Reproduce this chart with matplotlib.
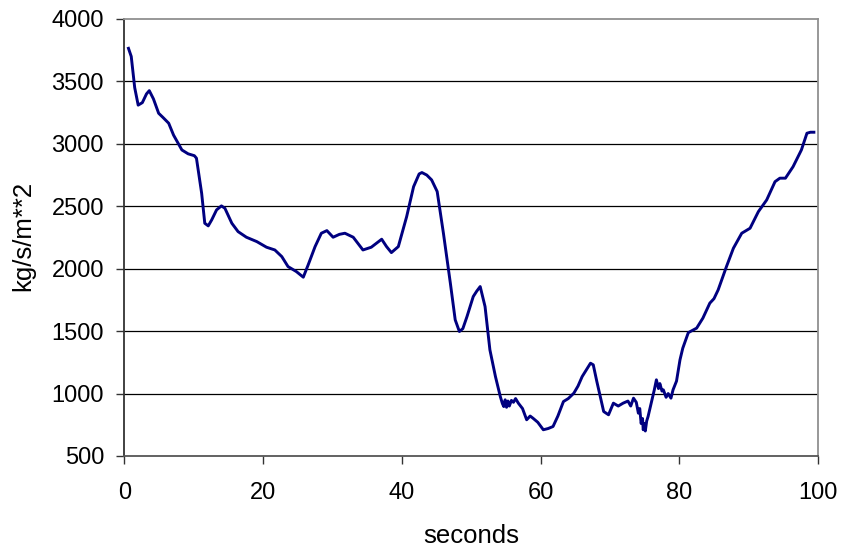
import matplotlib
matplotlib.use("Agg")
import matplotlib.pyplot as plt

seconds = [0.6, 1.0, 1.5, 2.0, 2.6, 3.2, 3.6, 4.2, 4.95, 5.6, 6.4, 7.1, 7.8, 8.3, 9.2, 10.1,
           10.4, 11.15, 11.6, 12.1, 12.6, 13.3, 14.0, 14.5, 15.5, 16.4, 17.6, 19.1, 20.5,
           21.7, 22.7, 23.6, 24.8, 25.8, 26.5, 27.5, 28.4, 29.2, 30.1, 31.0, 31.8, 33.0,
           34.4, 35.6, 37.1, 37.8, 38.5, 39.5, 40.7, 41.7, 42.5, 42.9, 43.6, 44.3, 45.1,
           46.0, 47.0, 47.7, 48.3, 48.8, 49.4, 50.3, 50.8, 51.3, 52.0, 52.7, 53.5, 54.2,
           54.5, 54.7, 54.9, 55.1, 55.3, 55.5, 55.8, 56.1, 56.4, 56.8, 57.4, 58.0, 58.5,
           58.9, 59.6, 60.4, 61.1, 61.8, 62.5, 63.3, 64.0, 64.8, 65.4, 66.0, 66.6, 67.2,
           67.6, 68.1, 68.6, 69.1, 69.8, 70.5, 71.2, 71.9, 72.6, 73.0, 73.4, 73.8, 74.1,
           74.3, 74.5, 74.7, 74.8, 75.0, 75.1, 75.3, 75.5, 76.1, 76.4, 76.7, 77.0, 77.2,
           77.5, 77.7, 78.1, 78.4, 78.8, 79.1, 79.6, 80.1, 80.5, 81.3, 82.5, 83.4, 84.4,
           85.0, 85.6, 86.8, 87.8, 89.0, 90.2, 91.4, 92.6, 93.8, 94.5, 95.3, 96.4, 97.6,
           98.4, 98.9, 99.4]
flux = [3765, 3700, 3450, 3310, 3330, 3400, 3426, 3360, 3245, 3210, 3165, 3070, 3000, 2951,
        2920, 2905, 2885, 2604, 2364, 2343, 2391, 2471, 2503, 2484, 2364, 2297, 2252, 2217,
        2172, 2150, 2097, 2017, 1977, 1932, 2030, 2177, 2284, 2305, 2252, 2275, 2284, 2252,
        2150, 2172, 2236, 2177, 2129, 2177, 2417, 2657, 2759, 2770, 2750, 2711, 2618,
        2284, 1884, 1590, 1497, 1520, 1617, 1777, 1820, 1857, 1697, 1350, 1136, 976,
        920, 896, 950, 890, 940, 900, 945, 930, 960, 923, 880, 790, 820,
        803, 770, 710, 720, 736, 820, 936, 960, 1003, 1060, 1136, 1190, 1243,
        1230, 1100, 976, 856, 830, 923, 900, 923, 940, 900, 963, 930, 843,
        880, 760, 800, 710, 760, 700, 780, 816, 960, 1030, 1110, 1040, 1080,
        1020, 1030, 970, 1000, 963, 1030, 1100, 1270, 1363, 1488, 1524, 1604, 1724,
        1760, 1830, 2017, 2164, 2284, 2324, 2457, 2551, 2697, 2725, 2725, 2817, 2951,
        3085, 3093, 3093]

xticks = [0, 20, 40, 60, 80, 100]
yticks = [500, 1000, 1500, 2000, 2500, 3000, 3500, 4000]

plt.rcParams['font.family'] = ['Liberation Sans', 'DejaVu Sans']

fig = plt.figure(figsize=(8.41, 5.47), dpi=100)
ax = fig.add_axes([0.1478, 0.1664, 0.8249, 0.7989])

for yv in yticks[1:-1]:
    ax.axhline(yv, color='black', lw=0.9, zorder=1)

ax.plot(seconds, flux, color='#000080', lw=2.1, zorder=3, solid_joinstyle='round')

ax.set_xlim(0, 100)
ax.set_ylim(500, 4000)
ax.set_xticks(xticks)
ax.set_yticks(yticks)
ax.tick_params(axis='both', direction='out', length=6, width=1, color='#333333',
               labelsize=17)
ax.tick_params(axis='y', pad=8.6)
ax.tick_params(axis='x', pad=12.6)

ax.spines['top'].set_color('#909090')
ax.spines['right'].set_color('#909090')
ax.spines['left'].set_color('#333333')
ax.spines['bottom'].set_color('#555555')
for s in ax.spines.values():
    s.set_linewidth(1.3)

ax.set_xlabel('seconds', fontsize=18.5)
ax.set_ylabel('kg/s/m**2', fontsize=18.5)
ax.xaxis.set_label_coords(0.5, -0.155)
ax.yaxis.set_label_coords(-0.128, 0.503)

fig.savefig('out.png', dpi=100)
